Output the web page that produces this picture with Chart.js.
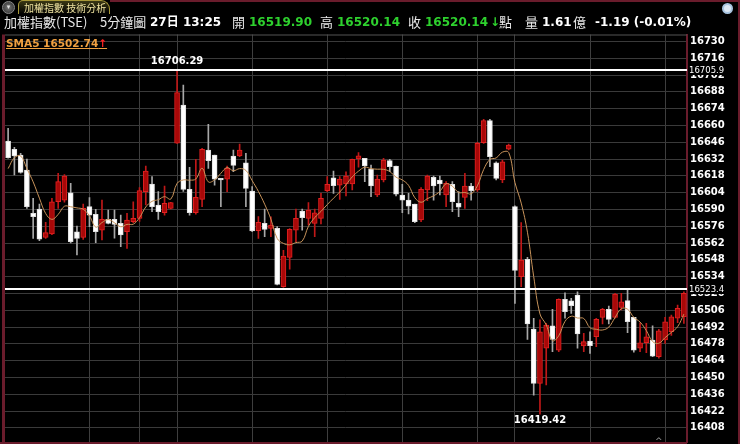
<!DOCTYPE html>
<html>
<head>
<meta charset="utf-8">
<script src="https://cdn.jsdelivr.net/npm/chart.js"></script>
<title>加權指數 技術分析</title>
<style>
	body { margin: 0; background: #000; }
	.wrap { position: relative; width: 740px; height: 444px; background: #000; overflow: hidden; }
	.chart { position: absolute; left: 0; top: 0; width: 740px; height: 444px; }
	.h { position: absolute; top: 14px; line-height: 16px; font-size: 13px; color: #e8e8e8; white-space: nowrap;
		font-family: "Noto Sans CJK TC", sans-serif; z-index: 2; }
	.n { font-family: "DejaVu Sans", "Noto Sans CJK TC", sans-serif; font-weight: bold; font-size: 12px; color: #fff; }
	.g { color: #2ed12e; }
	.btn { position: absolute; left: 2px; top: 1px; width: 11px; height: 11px; border-radius: 50%;
		background: radial-gradient(#777, #2a2a2a); border: 1px solid #8a8a8a; z-index: 2;
		color: #ddd; font-size: 7px; line-height: 11px; text-align: center; font-family: "DejaVu Sans"; }
	.tab { position: absolute; left: 18px; top: 0px; width: 92px; height: 14px; border: 1px solid #a89838; border-bottom: none;
		border-radius: 5px 9px 0 0; background: linear-gradient(#3a3814, #000); z-index: 2;
		color: #eee2a0; font-size: 10px; line-height: 14px; padding-left: 5px; box-sizing: border-box;
		font-family: "Noto Sans CJK TC", sans-serif; white-space: nowrap; }
	.topline { position: absolute; left: 110px; top: 0; width: 630px; height: 2px; background: #6a1c2c; z-index: 2; }
	.rightline { position: absolute; left: 738px; top: 0; width: 2px; height: 444px; background: #6a1c2c; z-index: 2; }
	.zoom { position: absolute; left: 722px; top: 3px; width: 7px; height: 7px; border-radius: 50%; border: 2px solid #a8c4e0;
		background: #dde8f4; z-index: 2; }
	.sma { position: absolute; left: 6px; top: 36px; line-height: 14px; font-family: "DejaVu Sans", sans-serif; font-weight: bold;
		font-size: 10.5px; color: #f0a040; text-decoration: underline; z-index: 2; white-space: nowrap; }
	.sma b { color: #ff2020; text-decoration: none; }
</style>
</head>
<body>
<div class="wrap">
	<div class="chart"><canvas id="chart1"></canvas></div>

	<div class="btn">▾</div>
	<div class="tab">加權指數 技術分析</div>
	<div class="topline"></div>
	<div class="rightline"></div>
	<div class="zoom"></div>

	<span class="h" style="left:4px">加權指數(TSE)</span>
	<span class="h" style="left:100px">5分鐘圖</span>
	<span class="h n" style="left:150px">27日 13:25</span>
	<span class="h" style="left:232px">開</span>
	<span class="h n g" style="left:249px">16519.90</span>
	<span class="h" style="left:320px">高</span>
	<span class="h n g" style="left:337px">16520.14</span>
	<span class="h" style="left:408px">收</span>
	<span class="h n g" style="left:425px">16520.14</span>
	<span class="h n g" style="left:490px">↓</span>
	<span class="h" style="left:499px">點</span>
	<span class="h" style="left:525px">量</span>
	<span class="h n" style="left:542px">1.61</span>
	<span class="h" style="left:573px">億</span>
	<span class="h n" style="left:595px">-1.19 (-0.01%)</span>

	<div class="sma">SMA5 16502.74<b>↑</b></div>
</div>

<script>

// 5 minute bars
var opens = [16647.0,16640.1,16635.3,16622.8,16586.8,16590.3,16566.7,16569.5,16596.4,16597.8,
	16603.9,16571.4,16566.7,16592.3,16585.9,16572.8,16581.7,16581.7,16578.4,16571.4,
	16579.8,16582.6,16604.8,16611.2,16593.7,16587.2,16590.9,16645.1,16677.0,16606.7,
	16587.2,16598.4,16639.5,16635.3,16615.9,16615.1,16634.5,16634.5,16628.9,16605.3,
	16572.3,16578.4,16574.2,16574.2,16525.6,16550.1,16572.8,16588.7,16582.6,16578.4,
	16582.6,16605.6,16616.4,16610.3,16611.2,16611.2,16632.0,16632.6,16623.4,16602.0,
	16614.5,16630.6,16626.2,16602.0,16597.8,16594.5,16581.2,16606.2,16616.7,16614.5,
	16602.0,16610.9,16595.1,16600.1,16609.5,16606.2,16645.6,16664.0,16628.9,16614.5,
	16640.1,16592.3,16534.0,16548.4,16490.3,16445.0,16474.3,16493.1,16472.8,16515.1,
	16513.9,16518.7,16476.2,16480.3,16484.0,16500.1,16506.8,16500.1,16508.4,16514.0,
	16500.1,16474.3,16478.9,16481.2,16467.3,16481.2,16488.1,16499.3,16500.6]

var highs = [16657.6,16641.8,16636.7,16632.0,16599.2,16594.5,16579.2,16599.2,16620.1,16619.0,
	16611.7,16576.2,16594.5,16599.8,16590.1,16597.8,16589.5,16589.5,16585.3,16586.8,
	16596.4,16608.3,16626.2,16617.3,16604.8,16609.5,16596.0,16706.29,16693.7,16625.1,
	16631.8,16641.0,16660.9,16635.3,16615.9,16626.2,16639.5,16644.5,16636.7,16609.0,
	16584.0,16590.3,16583.9,16575.6,16556.0,16574.0,16590.3,16590.3,16595.6,16590.3,
	16603.4,16617.3,16622.0,16617.3,16621.4,16632.0,16637.3,16632.6,16627.0,16618.7,
	16632.6,16631.8,16626.2,16610.9,16603.4,16594.5,16608.1,16618.7,16617.8,16617.8,
	16613.1,16613.1,16604.8,16620.1,16611.7,16646.0,16665.0,16665.1,16629.7,16631.2,
	16644.5,16593.0,16579.0,16550.0,16499.3,16498.0,16495.1,16506.8,16515.5,16520.6,
	16515.9,16521.4,16486.7,16488.1,16499.3,16507.6,16509.5,16520.1,16520.1,16522.8,
	16500.1,16495.6,16495.1,16493.1,16490.0,16500.1,16502.0,16510.3,16521.4]

var lows = [16632.6,16618.7,16620.1,16590.9,16565.9,16564.0,16565.9,16569.0,16590.9,16596.0,
	16562.0,16552.0,16565.0,16575.6,16562.3,16564.5,16578.0,16566.0,16558.9,16557.6,
	16579.0,16580.0,16593.7,16588.1,16581.7,16585.3,16590.5,16645.0,16605.0,16585.3,
	16586.0,16592.3,16624.2,16610.3,16592.3,16604.8,16621.4,16634.0,16592.3,16571.4,
	16565.9,16567.3,16567.3,16527.0,16525.0,16540.3,16563.1,16572.8,16577.0,16567.3,
	16578.0,16604.8,16603.4,16598.4,16601.2,16606.2,16625.1,16613.1,16600.6,16600.6,
	16613.0,16621.4,16601.2,16587.2,16586.2,16579.0,16579.8,16597.3,16597.8,16602.0,
	16592.3,16588.1,16583.9,16590.9,16597.8,16605.0,16645.0,16625.6,16614.5,16612.3,
	16639.5,16511.7,16525.6,16481.7,16435.3,16419.42,16443.7,16471.4,16471.5,16499.3,
	16503.4,16474.3,16471.4,16470.1,16475.6,16494.5,16494.5,16499.3,16506.2,16487.3,
	16471.0,16471.4,16470.6,16467.3,16466.0,16478.4,16485.0,16495.6,16495.1]

var closes = [16633.1,16634.5,16620.9,16592.3,16583.9,16565.3,16570.6,16596.4,16613.1,16617.8,
	16563.1,16565.9,16590.9,16585.3,16571.4,16581.7,16578.4,16577.6,16568.7,16581.2,
	16582.6,16605.6,16622.0,16592.3,16588.1,16595.1,16595.6,16687.3,16606.7,16587.2,
	16600.1,16640.1,16630.6,16615.1,16614.5,16624.2,16626.7,16639.5,16607.6,16572.0,
	16579.2,16573.4,16577.0,16527.6,16551.2,16573.4,16582.6,16583.1,16589.5,16587.2,
	16599.2,16610.9,16609.8,16615.3,16617.8,16631.8,16634.7,16626.2,16609.5,16615.3,
	16631.2,16625.6,16602.8,16597.8,16592.8,16579.8,16606.7,16617.8,16609.5,16611.2,
	16611.7,16596.4,16591.8,16609.5,16605.6,16645.1,16664.0,16633.9,16615.9,16629.7,
	16643.7,16539.2,16547.8,16494.5,16445.0,16488.1,16493.7,16481.7,16515.1,16504.8,
	16509.8,16486.2,16479.8,16476.4,16498.4,16506.8,16498.4,16519.5,16513.1,16496.4,
	16472.8,16478.9,16483.9,16467.8,16488.9,16496.4,16500.6,16507.6,16520.14]

// closes of the 4 bars before the first one shown (needed for the first SMA5 points)
var prevCloses = [16589.5, 16613.4, 16644.8, 16639.3]

var yTicks = [16730,16716,16702,16688,16674,16660,16646,16632,16618,16604,16590,16576,16562,
	16548,16534,16520,16506,16492,16478,16464,16450,16436,16422,16408]
var vLines = [13, 21, 27, 39, 51, 63, 75, 81, 93, 105]   // bars with a vertical grid line
var refLines = [16705.9, 16523.4]                       // white horizontal lines
var cursorBar = 104


var labels = closes.map((c, i) => String(i))

// SMA5 of the closes
var allC = prevCloses.concat(closes)
var sma5 = closes.map((c, i) => {
	let s = 0
	for (let k = i; k < i + 5; k++) s += allC[k]
	return +(s / 5).toFixed(2)
})

var up = closes.map((c, i) => c >= opens[i])

var overlay = {
	id: 'overlay',
	afterDraw(chart) {
		const ctx = chart.ctx, a = chart.chartArea
		const x = chart.scales.x, y = chart.scales.y
		ctx.save()

		// frame
		ctx.fillStyle = '#6a1c2c'
		ctx.fillRect(2, a.top, 3, 444 - a.top)
		ctx.fillRect(0, a.bottom, a.right, 2)
		ctx.fillStyle = '#555'
		ctx.fillRect(5, a.top, a.right - 5, 1)

		// white reference lines
		ctx.strokeStyle = '#ffffff'
		ctx.lineWidth = 2
		refLines.forEach(v => {
			const py = Math.round(y.getPixelForValue(v))
			ctx.beginPath()
			ctx.moveTo(a.left, py)
			ctx.lineTo(a.right, py)
			ctx.stroke()
			ctx.font = '8.5px "DejaVu Sans"'
			ctx.textBaseline = 'middle'
			ctx.textAlign = 'left'
			ctx.fillStyle = '#000'
			ctx.fillRect(a.right + 2, py - 4, 36, 9)
			ctx.fillStyle = '#fff'
			ctx.fillText(v.toFixed(1), a.right + 2, py + 0.5)
		})

		// highest / lowest labels
		const hiIdx = highs.indexOf(Math.max(...highs))
		const loIdx = lows.indexOf(Math.min(...lows))
		ctx.font = 'bold 10px "DejaVu Sans"'
		ctx.textAlign = 'center'
		ctx.fillStyle = '#fff'
		ctx.textBaseline = 'bottom'
		ctx.fillText(highs[hiIdx].toFixed(2), x.getPixelForValue(hiIdx), y.getPixelForValue(highs[hiIdx]) - 3)
		ctx.textBaseline = 'top'
		ctx.fillText(lows[loIdx].toFixed(2), x.getPixelForValue(loIdx), y.getPixelForValue(lows[loIdx]) + 1)

		// cursor mark at the bottom
		ctx.fillStyle = '#999'
		ctx.font = '9px "DejaVu Sans"'
		ctx.textBaseline = 'bottom'
		ctx.fillText('^', x.getPixelForValue(cursorBar), a.bottom + 4)

		ctx.restore()
	}
}

var ctx = document.getElementById('chart1').getContext('2d')

var chart1 = new Chart(ctx, {
	data: {
		labels: labels,
		datasets: [
			{ type: 'line', label: 'SMA5', data: sma5, borderColor: '#c8935a', borderWidth: 1,
				pointRadius: 0, tension: 0.4, order: 0 },
			{ type: 'bar', label: 'body', data: opens.map((o, i) => [o, closes[i]]),
				backgroundColor: up.map(u => u ? '#a80808' : '#ffffff'),
				borderColor: up.map(u => u ? '#e02020' : '#e0e0e0'),
				borderWidth: 1, borderSkipped: false, barThickness: 5, minBarLength: 1, grouped: false, order: 1 },
			{ type: 'bar', label: 'wick', data: lows.map((l, i) => [l, highs[i]]),
				backgroundColor: up.map(u => u ? '#c01818' : '#a8a8a8'),
				barThickness: 1, grouped: false, order: 2 }
		]
	},
	options: {
		responsive: true,
		maintainAspectRatio: false,
		animation: false,
		layout: { padding: { left: 5, top: 34.5, right: 0, bottom: 2 } },
		plugins: { legend: { display: false }, tooltip: { enabled: false } },
		scales: {
			x: {
				type: 'category',
				offset: true,
				grid: { offset: false, drawTicks: false,
					color: c => vLines.includes(c.index) ? '#3e3e3e' : 'rgba(0,0,0,0)' },
				border: { display: false },
				ticks: { display: false, autoSkip: false },
				afterFit: s => { s.height = 0; s.paddingLeft = 0; s.paddingRight = 0 }
			},
			y: {
				position: 'right',
				min: 16396.2,
				max: 16735.75,
				afterBuildTicks: s => { s.ticks = yTicks.map(v => ({ value: v })) },
				grid: { color: '#3a3a3a', drawTicks: false },
				border: { display: true, color: '#6a1c2c', width: 2 },
				ticks: { color: '#ffffff', padding: 3, callback: v => String(v),
					font: { family: 'DejaVu Sans', weight: 'bold', size: 10 } },
				afterFit: s => { s.width = 53; s.paddingTop = 0; s.paddingBottom = 0 }
			}
		}
	},
	plugins: [overlay]
})

</script>
</body>
</html>
